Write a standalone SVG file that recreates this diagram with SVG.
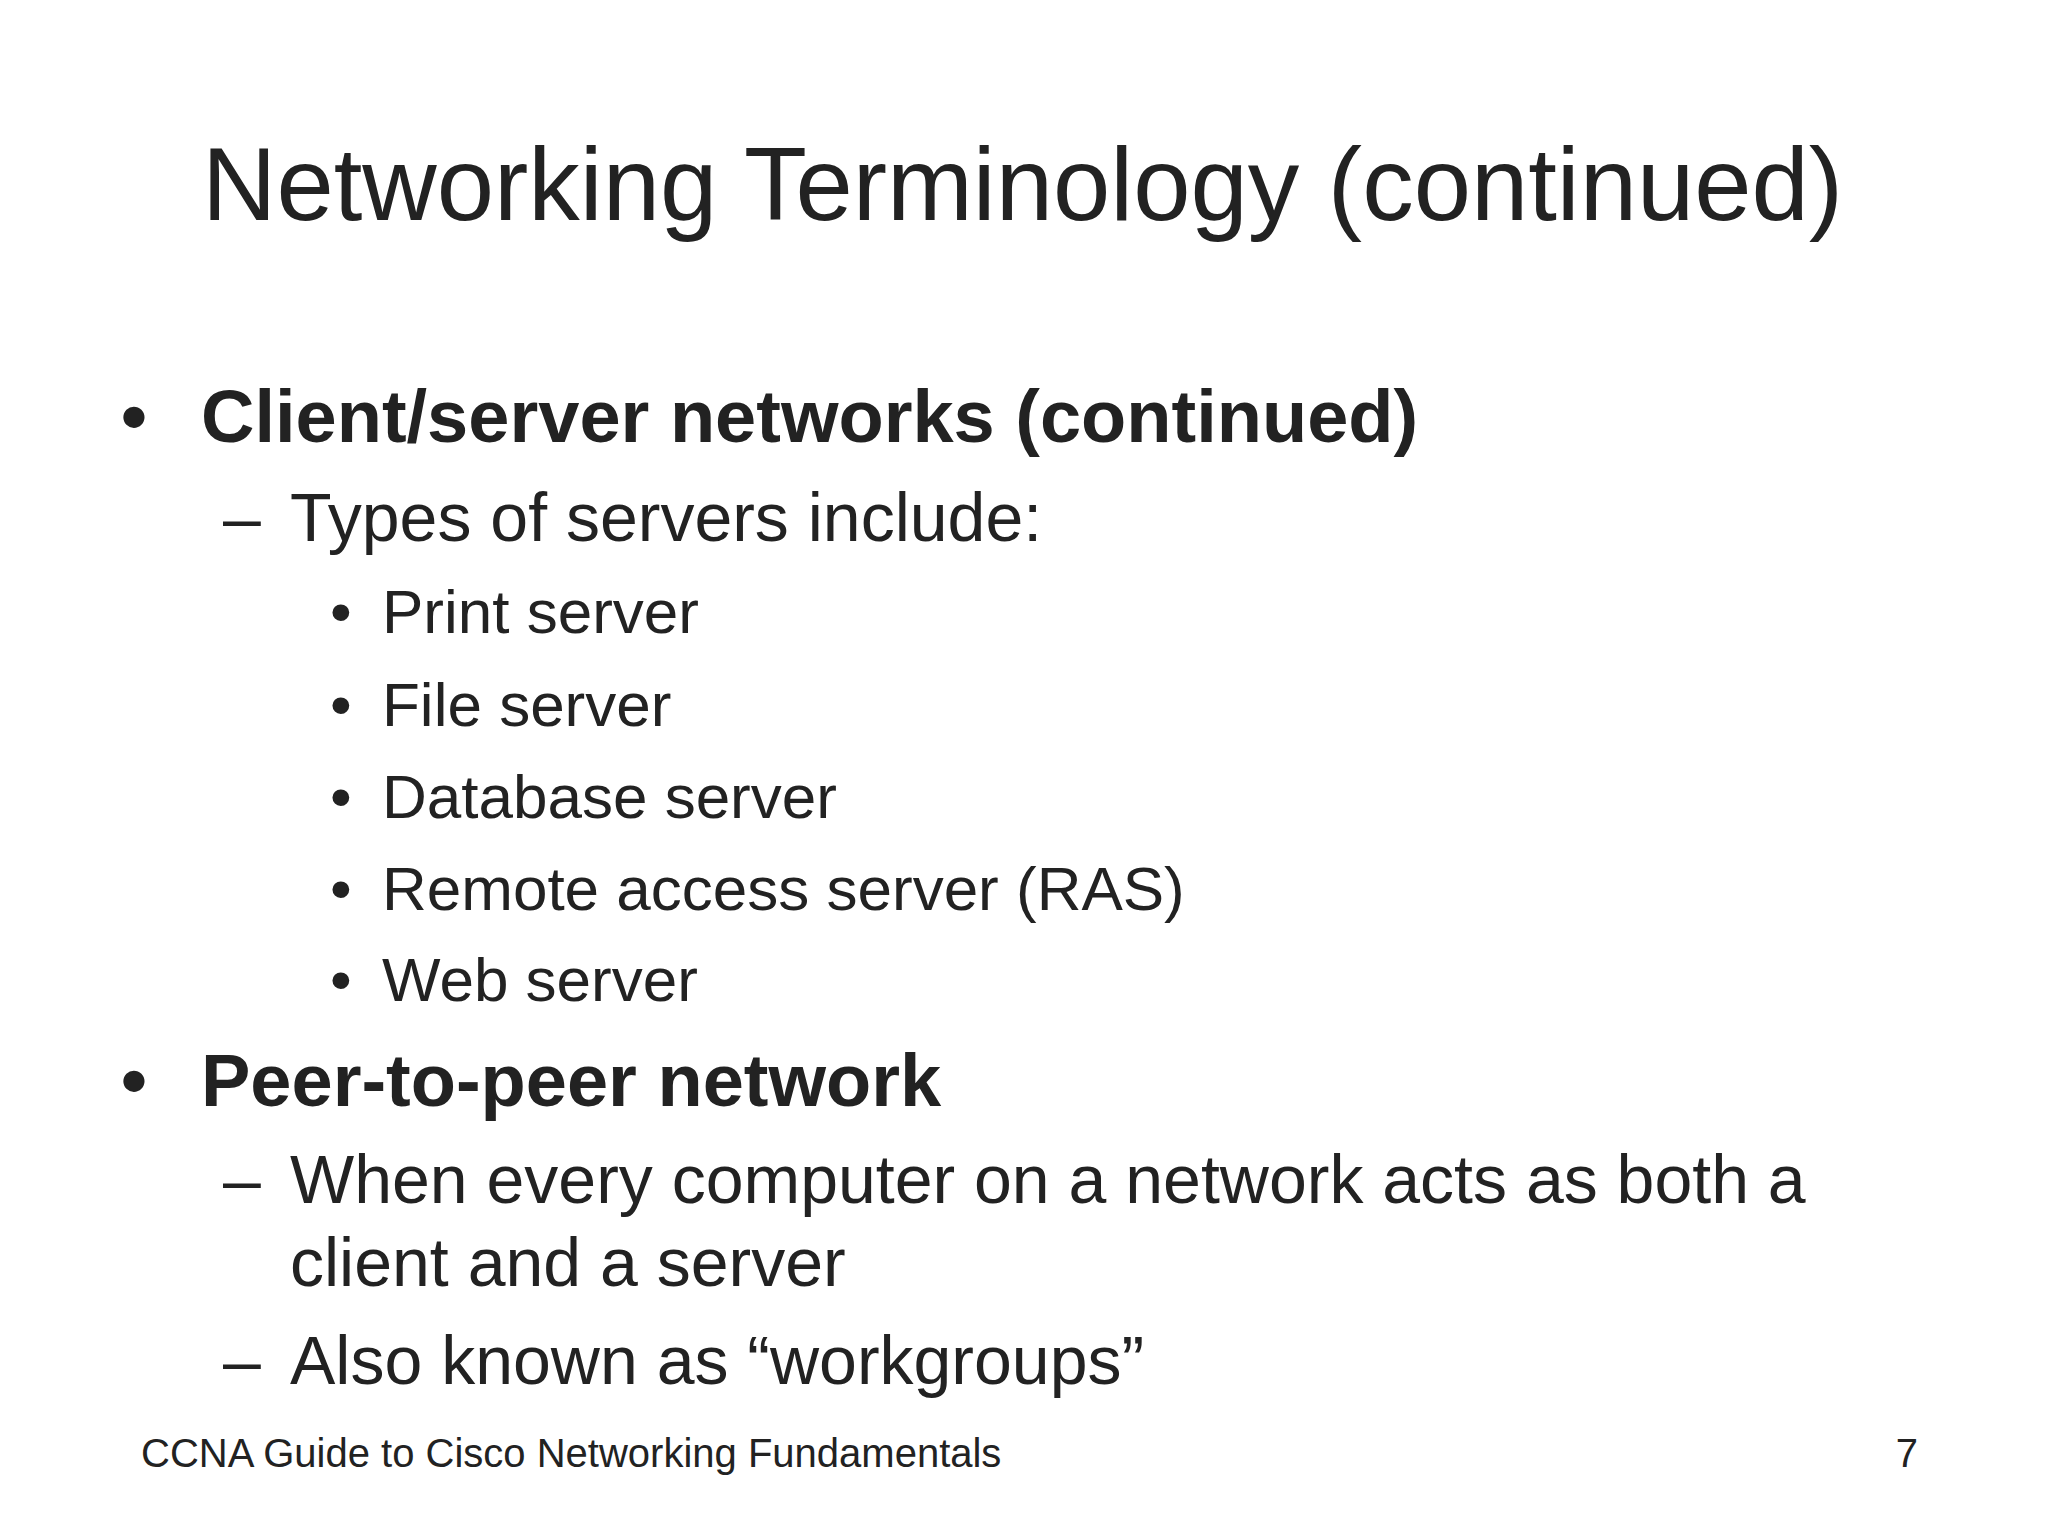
<svg xmlns="http://www.w3.org/2000/svg" width="2048" height="1536" viewBox="0 0 2048 1536">
<style>
text{font-family:"Liberation Sans",Arial,sans-serif;fill:#222}
.b{font-weight:bold;font-size:74px}
.l2{font-size:68px}
.l3{font-size:62px}
</style>
<rect width="2048" height="1536" fill="#fff"/>
<g id="title"><text x="202" y="220" font-size="103">Networking Terminology (continued)</text></g>
<g id="body">
<text x="121" y="442" class="b">•</text>
<text x="201" y="442" class="b">Client/server networks (continued)</text>
<text x="223" y="541" class="l2">–</text>
<text x="290" y="541" class="l2">Types of servers include:</text>
<text x="330" y="633" class="l3">•</text><text x="382" y="633" class="l3">Print server</text>
<text x="330" y="726" class="l3">•</text><text x="382" y="726" class="l3">File server</text>
<text x="330" y="818" class="l3">•</text><text x="382" y="818" class="l3">Database server</text>
<text x="330" y="910" class="l3">•</text><text x="382" y="910" class="l3">Remote access server (RAS)</text>
<text x="330" y="1001" class="l3">•</text><text x="382" y="1001" class="l3">Web server</text>
<text x="121" y="1106" class="b">•</text>
<text x="201" y="1106" class="b">Peer-to-peer network</text>
<text x="223" y="1203" class="l2">–</text>
<text x="290" y="1203" class="l2">When every computer on a network acts as both a</text>
<text x="290" y="1286" class="l2">client and a server</text>
<text x="223" y="1384" class="l2">–</text>
<text x="290" y="1384" class="l2">Also known as “workgroups”</text>
</g>
<g id="footer">
<text x="141" y="1467" font-size="40">CCNA Guide to Cisco Networking Fundamentals</text>
<text x="1918" y="1467" font-size="40" text-anchor="end">7</text>
</g>
</svg>
